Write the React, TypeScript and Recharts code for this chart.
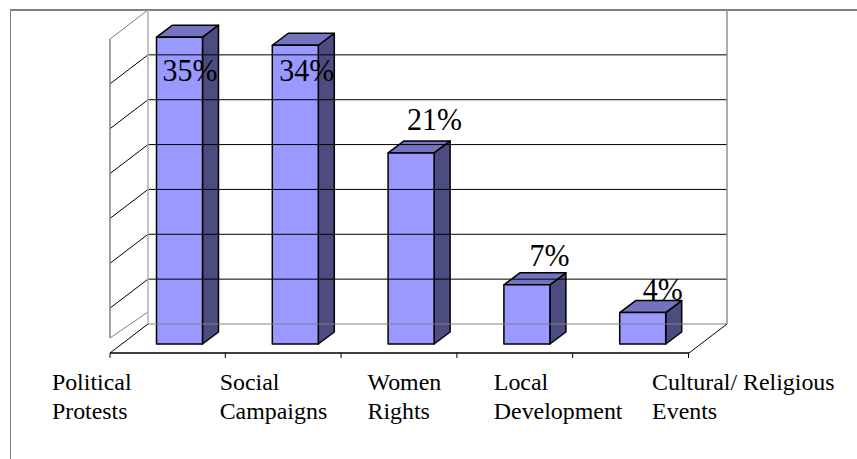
import { Bar, BarChart, LabelList, ReferenceLine, XAxis, YAxis } from "recharts";

const categories = [
  "Political\nProtests",
  "Social\nCampaigns",
  "Women\nRights",
  "Local\nDevelopment",
  "Cultural/ Religious\nEvents",
];
// bar heights as drawn, on the 0-35 axis (they sit a little off the printed labels)
const barLevels = [34.2, 33.3, 21.3, 6.6, 3.5];
const shareLabels = ["35%", "34%", "21%", "7%", "4%"];
const gridLevels = [0, 5, 10, 15, 20, 25, 30, 35];

const data = categories.map((name, i) => ({
  name,
  level: barLevels[i],
  label: shareLabels[i],
}));

const FONT = "'Liberation Serif', 'Times New Roman', serif";
const WALL = { dx: 38, dy: -29 };
const BAR_PLANE = { dx: 11.5, dy: -9 };
const BAR_DEPTH = { dx: 16, dy: -12 };
const PLOT_H = 314;
const GRAY = "#808080";

// where each printed label sits against its bar / band
const labelNudge = [
  { dx: 10.5, dy: 44 },
  { dx: 11.5, dy: 36 },
  { dx: 23.5, dy: -23 },
  { dx: 22.5, dy: -19 },
  { dx: 20, dy: -13 },
];
const tickNudge = [-116, -64, -32, -21.5, 21];
const BAND = 115.8;

function Box3D(props: any) {
  const { x, y, width, height } = props;
  const l = x + BAR_PLANE.dx;
  const r = l + width;
  const t = y + BAR_PLANE.dy;
  const b = t + height;
  const { dx, dy } = BAR_DEPTH;
  const edge = { stroke: "#000", strokeWidth: 1.5, strokeLinejoin: "round" as const };
  return (
    <g>
      <path d={`M${r},${t}L${r + dx},${t + dy}L${r + dx},${b + dy}L${r},${b}Z`} fill="#4c4c80" {...edge} />
      <path d={`M${l},${t}L${l + dx},${t + dy}L${r + dx},${t + dy}L${r},${t}Z`} fill="#7373bf" {...edge} />
      <rect x={l} y={t} width={width} height={height} fill="#9999ff" {...edge} />
    </g>
  );
}

function gridShape(level: number) {
  return (props: any) => {
    const { x1, x2, y1 } = props;
    const edgeLevel = level === 0 || level === 35;
    const stroke = edgeLevel ? GRAY : "#000";
    const bx = x1 + WALL.dx;
    const by = y1 + WALL.dy;
    return (
      <g fill="none" strokeWidth={1}>
        {level !== 0 && <path d={`M${x1},${y1}L${bx},${by}`} stroke={stroke} />}
        <path d={`M${bx},${by}L${x2 + WALL.dx},${by}`} stroke={stroke} />
        {level === 35 && (
          <g strokeWidth={1.5}>
            <path d={`M${x1},${y1}V${y1 + PLOT_H - 15}`} stroke={GRAY} />
            <path d={`M${bx},${by}V${by + PLOT_H}`} stroke="#b0b0b0" />
            <path d={`M${x2 + WALL.dx},${by}V${by + PLOT_H}`} stroke="#909090" />
          </g>
        )}
        {level === 0 && (
          <g>
            {/* side wall stops short of the floor */}
            <path d={`M${x1},${y1 - 15}L${bx},${by - 12}`} stroke={GRAY} />
            <path d={`M${x1},${y1}L${bx},${by}M${x2},${y1}L${x2 + WALL.dx},${by}`} stroke="#000" />
          </g>
        )}
      </g>
    );
  };
}

function CategoryTick(props: any) {
  const { x, index, payload } = props;
  const lines = String(payload.value).split("\n");
  const edge = x + BAND / 2 - 0.5;
  const left = x + tickNudge[index];
  return (
    <g>
      {index === 0 && <line x1={x - BAND / 2} x2={x - BAND / 2} y1={353} y2={358} stroke="#000" />}
      <line x1={edge} x2={edge} y1={353} y2={358} stroke="#000" />
      <text x={left} y={390} fontFamily={FONT} fontSize={23.9} fill="#000">
        {lines.map((line, i) => (
          <tspan key={i} x={left} dy={i === 0 ? 0 : 28.5}>
            {line}
          </tspan>
        ))}
      </text>
    </g>
  );
}

function ShareLabel(props: any) {
  const { x, y, width, value, index } = props;
  const n = labelNudge[index];
  return (
    <text
      x={x + BAR_PLANE.dx + width / 2 + n.dx}
      y={y + BAR_PLANE.dy + n.dy}
      textAnchor="middle"
      fontFamily={FONT}
      fontSize={32.5}
      textLength={String(value).length === 3 ? 55 : 40}
      lengthAdjust="spacingAndGlyphs"
      fill="#000"
    >
      {value}
    </text>
  );
}

export default function App() {
  return (
    <div style={{ position: "absolute", left: 0, top: 0, width: 857, height: 459, background: "#fff", overflow: "hidden" }}>
      <div
        style={{
          position: "absolute",
          left: 10,
          top: 9,
          right: 0,
          bottom: 0,
          borderTop: `2px solid ${GRAY}`,
          borderLeft: `1.5px solid ${GRAY}`,
        }}
      />
      <div style={{ position: "absolute", left: 0, top: 0 }}>
        <BarChart
          width={857}
          height={459}
          data={data}
          margin={{ top: 39, right: 168, bottom: 6, left: 110 }}
          barSize={46}
        >
          <YAxis hide type="number" domain={[0, 35]} ticks={gridLevels} />
          <XAxis
            dataKey="name"
            height={100}
            interval={0}
            axisLine={{ stroke: "#000", strokeWidth: 1.5 }}
            tickLine={false}
            tick={CategoryTick}
          />
          {gridLevels.map((level) => (
            <ReferenceLine key={level} y={level} ifOverflow="visible" shape={gridShape(level)} />
          ))}
          <Bar dataKey="level" isAnimationActive={false} shape={Box3D}>
            <LabelList dataKey="label" content={ShareLabel} />
          </Bar>
        </BarChart>
      </div>
    </div>
  );
}
